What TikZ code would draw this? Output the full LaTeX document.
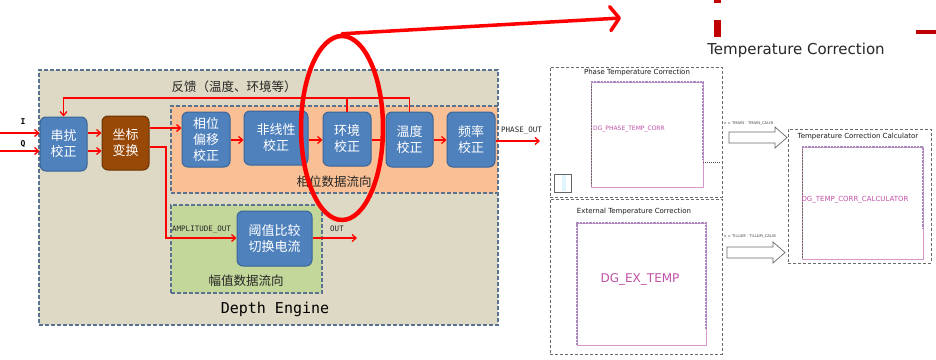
\documentclass[tikz,border=0pt]{standalone}
\usepackage{fontspec}
\setmainfont{DejaVu Sans}
\newfontfamily\cjk{Noto Sans CJK SC}
\newfontfamily\mono{DejaVu Sans Mono}
\usetikzlibrary{arrows.meta,shapes.geometric}

\definecolor{engfill}{HTML}{DDD9C4}
\definecolor{panelline}{HTML}{5A7391}
\definecolor{phasefill}{HTML}{F9C096}
\definecolor{ampfill}{HTML}{C4D79B}
\definecolor{blkfill}{HTML}{4F81BD}
\definecolor{blkline}{HTML}{3B6496}
\definecolor{brownfill}{HTML}{984807}
\definecolor{brownline}{HTML}{6A3204}
\definecolor{darkred}{HTML}{C00000}
\definecolor{schgrey}{HTML}{6A6A6A}
\definecolor{pinpurple}{HTML}{A88ABF}
\definecolor{instmag}{HTML}{C050A8}

\tikzset{
  panel/.style={draw=panelline, line width=1.1pt, dash pattern=on 4pt off 2pt, inner sep=0pt},
  blk/.style={rounded corners=6pt, draw=blkline, line width=1pt, fill=blkfill, text=white,
    font=\cjk\fontsize{13}{16}\selectfont, align=center, inner sep=0pt},
  sig/.style={draw=red, line width=1.3pt, -{Straight Barb[length=4pt,width=7pt]}},
  wire/.style={draw=red, line width=1.3pt},
  cnlabel/.style={font=\cjk\fontsize{12.5}{15}\selectfont, text=black!85, inner sep=0pt},
  port/.style={font=\mono\fontsize{7.5}{9}\selectfont, text=black!85, inner sep=0pt},
  schbox/.style={draw=schgrey, line width=0.7pt, densely dashed, inner sep=0pt},
  schtitle/.style={font=\fontsize{7}{8}\selectfont, text=black!90, inner sep=0pt},
  inst/.style={draw=instmag!60, line width=0.5pt},
  pins/.style={draw=pinpurple, line width=2.2pt, densely dotted},
  blockarrow/.style={draw=schgrey, line width=0.7pt, fill=white},
  tiny/.style={font=\fontsize{3.8}{4.5}\selectfont, text=black!70, inner sep=0pt, anchor=west},
}

\begin{document}
\begin{tikzpicture}[x=1pt,y=-1pt]
\useasboundingbox (0,0) rectangle (936,359);
\fill[white] (0,0) rectangle (936,359);

% ---------- Depth Engine ----------
\node[panel, fill=engfill, minimum width=459pt, minimum height=255pt] (eng) at (268.5,197.5) {};
\node[panel, fill=phasefill, minimum width=327pt, minimum height=87pt] (phpanel) at (334.5,149.5) {};
\node[panel, fill=ampfill, minimum width=151pt, minimum height=88pt] (amppanel) at (246.5,249) {};

\node[cnlabel] (fbtext) at (234,87) {反馈（温度、环境等）};
\node[cnlabel] (phtext) at (334,182) {相位数据流向};
\node[cnlabel] (amptext) at (246,281) {幅值数据流向};
\node[font=\mono\fontsize{15}{18}\selectfont, inner sep=0pt] (engtext) at (275,309) {Depth Engine};

% processing blocks
\node[blk, minimum width=47pt, minimum height=54pt] (cr) at (63.5,144) {串扰\\校正};
\node[blk, fill=brownfill, draw=brownline, minimum width=47pt, minimum height=54pt] (zb) at (125.5,143) {坐标\\变换};
\node[blk, minimum width=48pt, minimum height=55pt] (xw) at (206,139.5) {相位\\偏移\\校正};
\node[blk, minimum width=64pt, minimum height=54pt] (fx) at (276,138) {非线性\\校正};
\node[blk, minimum width=48pt, minimum height=54pt] (hj) at (347,139) {环境\\校正};
\node[blk, minimum width=47pt, minimum height=55pt] (wd) at (409.5,139.5) {温度\\校正};
\node[blk, minimum width=48pt, minimum height=55pt] (pl) at (471,139.5) {频率\\校正};
\node[blk, minimum width=75pt, minimum height=55pt] (yz) at (274.5,238.5) {阈值比较\\切换电流};

% inputs
\coordinate (inI) at (0,133);
\coordinate (inQ) at (0,151);
\node[font=\mono\bfseries\fontsize{8}{9}\selectfont, inner sep=0pt] (lblI) at (23,122) {I};
\node[font=\mono\bfseries\fontsize{8}{9}\selectfont, inner sep=0pt] (lblQ) at (23,144) {Q};
\draw[sig] (inI) -- (cr.west |- inI);
\draw[sig] (inQ) -- (cr.west |- inQ);

% data path
\draw[sig] (cr.east |- inI) -- (zb.west |- inI);
\draw[sig] (cr.east |- inQ) -- (zb.west |- inQ);
\coordinate (phY) at (0,128);
\draw[sig] (zb.east |- phY) -- (xw.west |- phY);
\coordinate (rowY) at (0,140);
\draw[sig] (xw.east |- rowY) -- (fx.west |- rowY);
\draw[sig] (fx.east |- rowY) -- (hj.west |- rowY);
\draw[sig] (hj.east |- rowY) -- (wd.west |- rowY);
\draw[sig] (wd.east |- rowY) -- (pl.west |- rowY);
\coordinate (phE) at (540,141);
\draw[sig] (pl.east |- phE) -- (phE);
\node[port, anchor=west] (phlbl) at (501,131) {PHASE\_OUT};

% amplitude path
\coordinate (ampA) at (0,147);
\coordinate (ampB) at (166,238);
\draw[sig] (zb.east |- ampA) -| (ampB) -- (yz.west |- ampB);
\node[port, anchor=west] (amplbl) at (172,230) {AMPLITUDE\_OUT};
\coordinate (outE) at (357,238);
\draw[sig] (yz.east |- outE) -- (outE);
\node[port] (outlbl) at (337,229) {OUT};

% feedback
\coordinate (fbY) at (0,98);
\draw[sig] (wd.north) -- (wd.north |- fbY) -| (cr.north);
\draw[wire] (hj.north) -- (hj.north |- fbY);

% highlight
\node[draw=red, line width=4.5pt, ellipse, inner sep=0pt, minimum width=82pt, minimum height=184pt] (focus) at (342,128) {};
\coordinate (pointer) at (621,18);
\draw[red, line width=3.5pt, line cap=round, -{Straight Barb[length=9pt,width=24pt,round]}] (focus.north) -- (pointer);

% ---------- Temperature Correction schematic ----------
\fill[darkred] (714,0) rectangle (721,3);
\fill[darkred] (714,20) rectangle (721,37);
\fill[darkred] (916,30) rectangle (936,34);
\node[font=\fontsize{15}{17}\selectfont, text=black!85, inner sep=0pt] (tctitle) at (796,50) {Temperature Correction};

% phase temperature correction
\node[schbox, minimum width=172pt, minimum height=130pt] (ptc) at (636,132) {};
\node[schtitle] (ptct) at (637,73) {Phase Temperature Correction};
\draw[inst] (591,82) rectangle (703,187);
\draw[pins] (591,82) -- (703,82) -- (703,160);
\draw[draw=schgrey, line width=0.5pt, densely dotted] (591,84) -- (591,186);
\node[font=\fontsize{6}{7}\selectfont, text=instmag, anchor=west, inner sep=0pt] (ptci) at (593,129) {DG\_PHASE\_TEMP\_CORR};
\draw[black!70, line width=1pt, densely dotted] (703,162) -- (720,162);
\fill[cyan!12] (562,175) rectangle (566,191);
\draw[black!60, line width=0.7pt] (554,174) rectangle (571,192);

% external temperature correction
\node[schbox, minimum width=172pt, minimum height=155pt] (etc) at (636,276.5) {};
\node[schtitle] (etct) at (634,212) {External Temperature Correction};
\draw[inst] (577,223) rectangle (706,345);
\draw[pins] (577,345) -- (577,223) -- (706,223) -- (706,330);
\node[font=\fontsize{12}{14}\selectfont, text=instmag, inner sep=0pt] (etci) at (640,279) {DG\_EX\_TEMP};

% calculator
\node[schbox, minimum width=143pt, minimum height=134pt] (calc) at (859.5,196) {};
\node[schtitle] (calct) at (858,137) {Temperature Correction Calculator};
\draw[inst] (802,147) rectangle (923,259);
\draw[pins] (802,147) -- (923,147) -- (923,228);
\draw[draw=schgrey, line width=0.5pt, densely dotted] (802,149) -- (802,258);
\node[font=\fontsize{7}{8}\selectfont, text=instmag, inner sep=0pt] (calci) at (855,200) {DG\_TEMP\_CORR\_CALCULATOR};

% transfer arrows
\draw[blockarrow] (729,132) -- (775,132) -- (775,127) -- (787,137.5) -- (775,148) -- (775,143) -- (729,143) -- cycle;
\node[tiny] (xmain) at (724,124) {x = TMAIN - TMAIN\_CALIB};
\draw[blockarrow] (727,247) -- (773,247) -- (773,242) -- (785,252.5) -- (773,263) -- (773,258) -- (727,258) -- cycle;
\node[tiny] (xillum) at (724,237) {x = TILLUM - TILLUM\_CALIB};
\end{tikzpicture}
\end{document}
